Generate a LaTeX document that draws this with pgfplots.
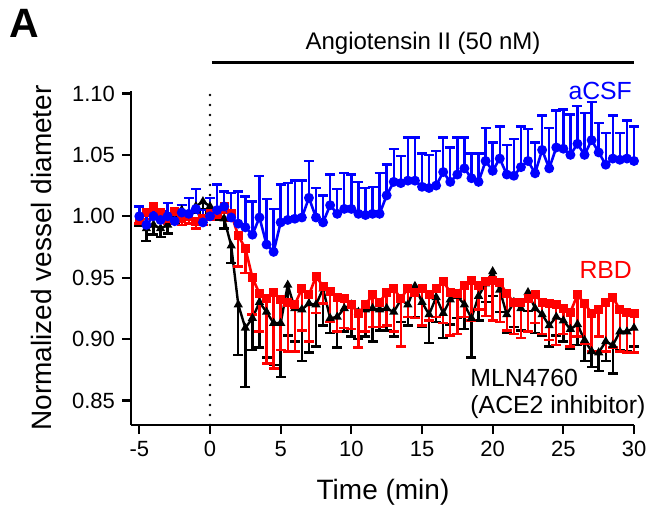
\documentclass[border=0pt]{standalone}
\usepackage{fontspec}
\setmainfont{Liberation Sans}
\usepackage{pgfplots}
\usepackage{pgfplotstable}
\pgfplotsset{compat=1.18}

% aCSF (blue), SEM plotted upward
\pgfplotstableread{
t y e
-5 1.000 0.008
-4.5 0.993 0.009
-4 1.000 0.006
-3.5 0.997 0.007
-3 1.000 0.011
-2.5 0.996 0.008
-2 1.003 0.006
-1.5 1.002 0.013
-1 1.006 0.016
-0.5 0.995 0.010
0 1.000 0.015
0.5 1.005 0.021
1 1.008 0.012
1.5 0.999 0.020
2 0.994 0.026
2.5 0.991 0.025
3 0.985 0.027
3.5 0.999 0.034
4 0.977 0.037
4.5 0.971 0.035
5 0.995 0.031
5.5 0.997 0.030
6 0.998 0.031
6.5 0.999 0.030
7 1.015 0.030
7.5 0.999 0.024
8 0.995 0.022
8.5 1.009 0.025
9 1.002 0.020
9.5 1.006 0.029
10 1.006 0.028
10.5 1.002 0.026
11 1.001 0.022
11.5 1.002 0.022
12 1.002 0.033
12.5 1.017 0.025
13 1.028 0.027
13.5 1.027 0.022
14 1.029 0.035
14.5 1.029 0.035
15 1.024 0.027
15.5 1.023 0.027
16 1.025 0.028
16.5 1.036 0.028
17 1.028 0.028
17.5 1.034 0.030
18 1.039 0.025
18.5 1.031 0.020
19 1.028 0.023
19.5 1.045 0.027
20 1.037 0.023
20.5 1.047 0.026
21 1.034 0.024
21.5 1.033 0.030
22 1.040 0.033
22.5 1.045 0.026
23 1.035 0.025
23.5 1.054 0.028
24 1.039 0.033
24.5 1.056 0.030
25 1.055 0.032
25.5 1.050 0.033
26 1.059 0.031
26.5 1.050 0.034
27 1.062 0.031
27.5 1.052 0.024
28 1.042 0.026
28.5 1.047 0.035
29 1.046 0.022
29.5 1.047 0.031
30 1.045 0.028
}\acsf

% RBD (red), SEM plotted downward
\pgfplotstableread{
t y e
-5 0.998 0.004
-4.5 1.003 0.005
-4 1.008 0.005
-3.5 1.003 0.005
-3 0.998 0.004
-2.5 1.004 0.005
-2 0.998 0.005
-1.5 1.000 0.006
-1 0.996 0.006
-0.5 0.998 0.005
0 1.002 0.005
0.5 1.004 0.005
1 1.008 0.005
1.5 1.002 0.006
2 0.984 0.025
2.5 0.974 0.020
3 0.950 0.030
3.5 0.937 0.031
4 0.933 0.053
4.5 0.938 0.062
5 0.932 0.041
5.5 0.930 0.040
6 0.928 0.038
6.5 0.941 0.034
7 0.936 0.038
7.5 0.951 0.030
8 0.943 0.014
8.5 0.939 0.025
9 0.934 0.028
9.5 0.933 0.024
10 0.928 0.020
10.5 0.921 0.028
11 0.928 0.022
11.5 0.936 0.026
12 0.930 0.020
12.5 0.938 0.027
13 0.941 0.035
13.5 0.933 0.039
14 0.941 0.023
14.5 0.938 0.021
15 0.941 0.030
15.5 0.936 0.021
16 0.941 0.023
16.5 0.947 0.034
17 0.938 0.035
17.5 0.937 0.033
18 0.944 0.026
18.5 0.948 0.033
19 0.944 0.020
19.5 0.947 0.028
20 0.948 0.033
20.5 0.946 0.032
21 0.937 0.030
21.5 0.930 0.026
22 0.930 0.029
22.5 0.933 0.027
23 0.936 0.023
23.5 0.930 0.026
24 0.929 0.030
24.5 0.928 0.033
25 0.925 0.021
25.5 0.922 0.028
26 0.936 0.034
26.5 0.929 0.033
27 0.921 0.031
27.5 0.924 0.022
28 0.930 0.040
28.5 0.934 0.041
29 0.924 0.034
29.5 0.922 0.033
30 0.921 0.032
}\rbd

% MLN4760 (black), SEM plotted downward
\pgfplotstableread{
t y e
-5 0.998 0.006
-4.5 0.990 0.010
-4 0.993 0.008
-3.5 0.990 0.007
-3 0.993 0.007
-2.5 1.000 0.006
-2 1.005 0.005
-1.5 1.000 0.006
-1 1.008 0.005
-0.5 1.012 0.006
0 1.008 0.005
0.5 1.003 0.006
1 0.998 0.008
1.5 0.976 0.014
2 0.928 0.041
2.5 0.909 0.048
3 0.917 0.026
3.5 0.930 0.037
4 0.922 0.037
4.5 0.913 0.034
5 0.913 0.044
5.5 0.944 0.041
6 0.925 0.027
6.5 0.924 0.042
7 0.929 0.040
7.5 0.928 0.034
8 0.941 0.030
8.5 0.917 0.012
9 0.918 0.025
9.5 0.925 0.019
10 0.928 0.026
10.5 0.922 0.022
11 0.924 0.022
11.5 0.925 0.027
12 0.924 0.017
12.5 0.925 0.018
13 0.922 0.020
13.5 0.932 0.018
14 0.928 0.017
14.5 0.943 0.025
15 0.930 0.020
15.5 0.920 0.023
16 0.934 0.020
16.5 0.921 0.020
17 0.932 0.020
17.5 0.935 0.018
18 0.928 0.020
18.5 0.917 0.032
19 0.935 0.020
19.5 0.945 0.015
20 0.955 0.020
20.5 0.940 0.018
21 0.920 0.015
21.5 0.930 0.020
22 0.925 0.018
22.5 0.938 0.015
23 0.925 0.020
23.5 0.920 0.017
24 0.911 0.017
24.5 0.918 0.015
25 0.915 0.017
25.5 0.908 0.016
26 0.912 0.017
26.5 0.899 0.017
27 0.890 0.013
27.5 0.889 0.015
28 0.898 0.016
28.5 0.895 0.023
29 0.906 0.015
29.5 0.906 0.016
30 0.909 0.015
}\mln

\begin{document}
\begin{tikzpicture}[x=1pt, y=1pt]
\useasboundingbox (-65.5,-45.5) rectangle (260.5,212.5);
\begin{axis}[
    at={(0,0)}, anchor=south west,
    width=251.5pt, height=167pt, scale only axis,
    xmin=-5.59, xmax=30, ymin=0.83, ymax=1.102,
    axis lines*=left,
    axis line style={line width=1.1pt},
    xtick={-5,0,5,10,15,20,25,30},
    ytick={0.85,0.90,0.95,1.00,1.05,1.10},
    yticklabel style={/pgf/number format/.cd, fixed, fixed zerofill, precision=2},
    /pgf/number format/assume math mode=true,
    tick label style={font=\fontsize{11}{12}\selectfont},
    tick align=outside,
    major tick length=4.5pt,
    tick style={line width=1.1pt, black},
    xlabel={Time (min)},
    ylabel={Normalized vessel diameter},
    every axis x label/.style={at={(axis description cs:0.501,-0.20)}, anchor=center, font=\fontsize{14}{16}\selectfont},
    every axis y label/.style={at={(axis description cs:-0.178,0.5)}, anchor=center, rotate=90, font=\fontsize{14}{16}\selectfont},
    clip=false,
]
% dotted line at drug onset
\addplot[black, line width=1.4pt, dash pattern=on 0pt off 5pt, line cap=round] coordinates {(0,0.83) (0,1.102)};

\addplot[black, line width=1.2pt, mark=triangle*, mark size=1.5pt,
    error bars/.cd, y dir=minus, y explicit,
    error bar style={line width=1.2pt, black},
    error mark options={black, line width=1.2pt, mark size=2.5pt, rotate=90}]
    table[x=t, y=y, y error=e] {\mln};

\addplot[red, line width=1.3pt, mark=square*, mark size=1.6pt,
    error bars/.cd, y dir=minus, y explicit,
    error bar style={line width=1.2pt, red},
    error mark options={red, line width=1.2pt, mark size=2.5pt, rotate=90}]
    table[x=t, y=y, y error=e] {\rbd};

\addplot[blue, line width=1.3pt, mark=*, mark size=1.8pt,
    error bars/.cd, y dir=plus, y explicit,
    error bar style={line width=1.2pt, blue},
    error mark options={blue, line width=1.2pt, mark size=2.5pt, rotate=90}]
    table[x=t, y=y, y error=e] {\acsf};

% treatment bar
\draw[line width=1.5pt] (axis cs:0.14,1.125) -- (axis cs:30,1.125);
\node[font=\fontsize{12}{14}\selectfont] at (axis cs:15.07,1.141) {Angiotensin II (50 nM)};

\node[anchor=east, blue, font=\fontsize{12.4}{14}\selectfont] at (axis cs:30.35,1.102) {aCSF};
\node[anchor=east, red, font=\fontsize{12.4}{14}\selectfont] at (axis cs:30.35,0.956) {RBD};
\node[anchor=west, align=left, inner sep=0pt, font=\fontsize{12.4}{13.5}\selectfont] at (axis cs:18.4,0.855) {MLN4760\\(ACE2 inhibitor)};
\end{axis}
\node[font=\fontsize{20.5}{22}\selectfont\bfseries] at (-53.5,201) {A};
\end{tikzpicture}
\end{document}
